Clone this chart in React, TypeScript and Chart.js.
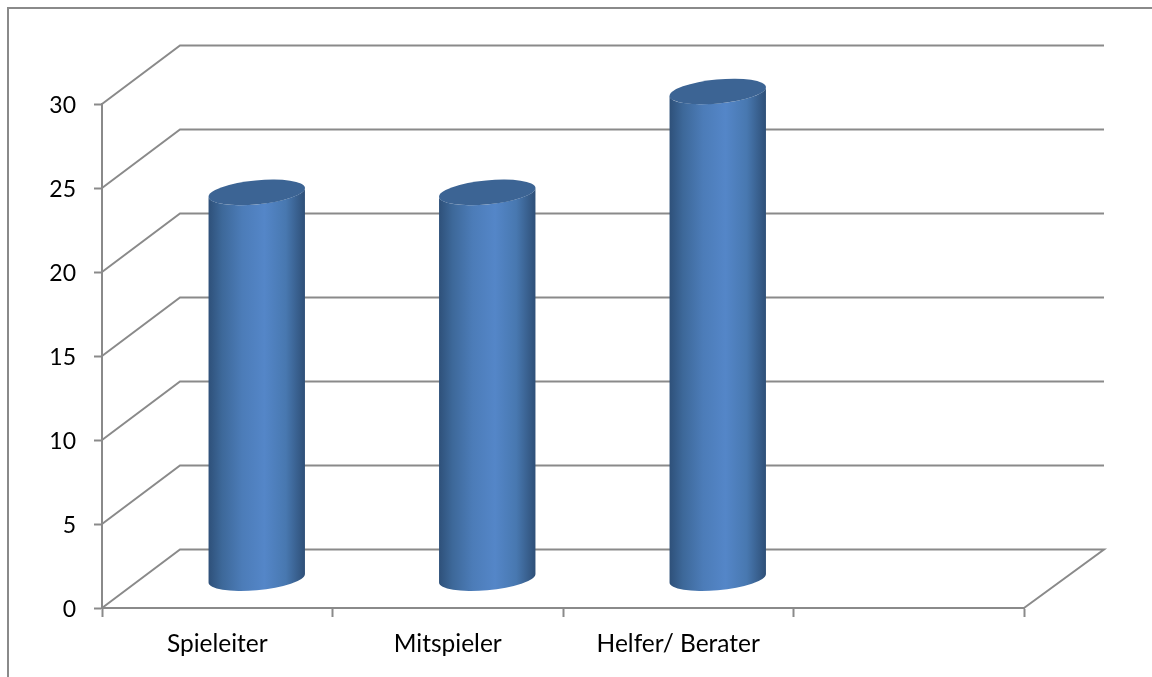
import React, { useEffect, useRef } from "react";
import { Chart, registerables } from "chart.js";

Chart.register(...registerables);

const categories = ["Spieleiter", "Mitspieler", "Helfer/ Berater", ""];
const values = [23, 23, 29, null];
const yMax = 30;
const yStep = 5;

const LINE = "#8a8a8a";
const FONT = "Lato, Carlito, sans-serif";
const DEPTH_X = 78;
const DEPTH_Y = 58.5;

// Cylinder side shading, dark at the silhouette and bright around the middle.
const SHADE = [
  [0, "#2e5079"],
  [0.14, "#3d6899"],
  [0.35, "#4c7cb8"],
  [0.58, "#5486c8"],
  [0.8, "#4878b0"],
  [1, "#2e4f77"],
] as const;
const CAP = "#3c6494";

// Frame of the chart space plus the receding walls and floor of the 3D box.
const box3d = {
  id: "box3d",
  beforeDatasetsDraw(chart: any) {
    const { ctx, scales, width, height } = chart;
    const x = scales.x;
    const y = scales.y;
    const left = x.left;
    const right = x.right;
    ctx.save();
    ctx.strokeStyle = LINE;
    ctx.lineWidth = 2;
    ctx.beginPath();
    ctx.moveTo(8, height);
    ctx.lineTo(8, 8);
    ctx.lineTo(width, 8);
    ctx.stroke();

    for (const tick of y.ticks) {
      const py = y.getPixelForValue(tick.value);
      ctx.beginPath();
      ctx.moveTo(left, py);
      ctx.lineTo(left + DEPTH_X, py - DEPTH_Y);
      ctx.lineTo(right + DEPTH_X + 2, py - DEPTH_Y);
      if (tick.value === 0) ctx.lineTo(right, py);
      ctx.stroke();
    }
    ctx.restore();
  },
  afterDatasetsDraw(chart: any) {
    const { ctx } = chart;
    const meta = chart.getDatasetMeta(0);
    const rot = -0.095;
    const ry = 12;
    meta.data.forEach((bar: any, i: number) => {
      if (values[i] == null) return;
      const rx = bar.width / 2;
      const cx = bar.x + DEPTH_X / 2 + 0.5;
      const top = bar.y - DEPTH_Y / 2;
      const base = bar.base - DEPTH_Y / 2;
      const t = Math.atan2(-ry * Math.sin(rot), rx * Math.cos(rot));

      const grad = ctx.createLinearGradient(cx - rx, 0, cx + rx, 0);
      SHADE.forEach(([stop, colour]) => grad.addColorStop(stop, colour));

      ctx.save();
      ctx.beginPath();
      ctx.ellipse(cx, base, rx, ry, rot, t, t + Math.PI);
      ctx.ellipse(cx, top, rx, ry, rot, t + Math.PI, t, true);
      ctx.closePath();
      ctx.fillStyle = grad;
      ctx.fill();

      ctx.beginPath();
      ctx.ellipse(cx, top, rx, ry, rot, 0, Math.PI * 2);
      ctx.fillStyle = CAP;
      ctx.fill();
      ctx.restore();
    });
  },
};

export default function App() {
  const ref = useRef<HTMLCanvasElement>(null);

  useEffect(() => {
    document.body.style.margin = "0";
    const chart = new Chart(ref.current!, {
      type: "bar",
      data: {
        labels: categories,
        datasets: [
          {
            data: values,
            backgroundColor: "transparent",
            borderWidth: 0,
            barPercentage: 0.42,
            categoryPercentage: 1,
          },
        ],
      },
      options: {
        animation: false,
        responsive: false,
        layout: { padding: { top: 104, right: 128, left: 0, bottom: 0 } },
        plugins: { legend: { display: false }, tooltip: { enabled: false } },
        scales: {
          x: {
            afterFit(scale: any) {
              scale.height = 69;
            },
            grid: {
              drawOnChartArea: false,
              drawTicks: true,
              tickLength: 9,
              tickWidth: 2,
              tickColor: LINE,
            },
            border: { color: LINE, width: 2 },
            ticks: {
              color: "#000",
              padding: 12,
              maxRotation: 0,
              font: { family: FONT, size: 24.5 },
            },
          },
          y: {
            min: 0,
            max: yMax,
            afterFit(scale: any) {
              scale.width = 102;
            },
            grid: {
              drawOnChartArea: false,
              drawTicks: true,
              tickLength: 8,
              tickWidth: 2,
              tickColor: LINE,
            },
            border: { color: LINE, width: 2 },
            ticks: {
              stepSize: yStep,
              color: "#000",
              padding: 18,
              labelOffset: 2,
              font: { family: FONT, size: 23 },
            },
          },
        },
      },
      plugins: [box3d],
    });
    return () => chart.destroy();
  }, []);

  return <canvas ref={ref} width={1152} height={677} style={{ display: "block" }} />;
}
